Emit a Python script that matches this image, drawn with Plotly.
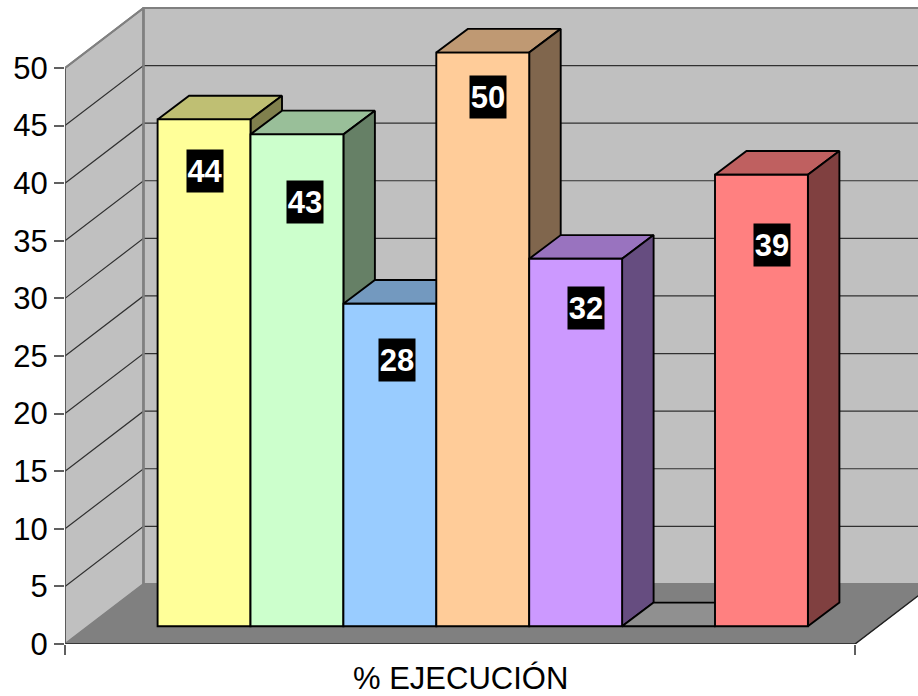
import plotly.graph_objects as go

# ---- data ----
CATEGORY = "% EJECUCIÓN"
VALUES = [44.0, 42.7, 28.0, 49.8, 31.9, 0.0, 39.2]
FRONT_COLORS = ["#ffff99", "#ccffcc", "#99ccff", "#ffcc99", "#cc99ff", "#c0c0c0", "#ff8080"]
TOP_COLORS = ["#bfbf73", "#99bf99", "#7399bf", "#bf9973", "#9973bf", "#909090", "#bf6060"]
SIDE_COLORS = ["#80804d", "#668066", "#4d6680", "#80664d", "#664d80", "#606060", "#804040"]
Y_TICKS = [0, 5, 10, 15, 20, 25, 30, 35, 40, 45, 50]
# label placement relative to the bar front (pixels)
LABEL_XSHIFT = [0.5, 7.6, 6.7, 4.8, 10, 0, 10.1]
LABEL_DROP = [52, 68, 56, 44, 49, 0, 70]

# ---- geometry (pixels per axis unit) ----
W, H = 918, 696
ML, MB = 65.0, 52.3
PX_X = 790.0
PX_Y = 11.515
FLOOR_DX = 78.5 / PX_X
FLOOR_DY = 60.0 / PX_Y
BAR_DX = 31.5 / PX_X
BAR_DY = 23.7 / PX_Y
BAR_W = 92.9 / PX_X
BAR_X0 = 92.6 / PX_X
BAR_BASE = 17.7 / PX_Y
Y_TOP = (H - MB) / PX_Y
X_TOP = (W - ML) / PX_X
LW = 1.9
FONT = "Liberation Sans"

fig = go.Figure()


def poly(xs, ys, fill, line="#000000", width=LW, z=0):
    fig.add_trace(go.Scatter(
        x=xs, y=ys, mode="lines", fill="toself" if fill else "none",
        fillcolor=fill, line=dict(color=line, width=width),
        hoverinfo="skip", showlegend=False, zorder=z))


# walls and floor
poly([0, FLOOR_DX, FLOOR_DX, 0, 0],
     [0, FLOOR_DY, 50 + FLOOR_DY, 50, 0], "#c0c0c0", "#808080", 2, 0)
poly([FLOOR_DX, X_TOP + 0.1, X_TOP + 0.1, FLOOR_DX, FLOOR_DX],
     [FLOOR_DY, FLOOR_DY, 50 + FLOOR_DY, 50 + FLOOR_DY, FLOOR_DY], "#c0c0c0", "#808080", 2, 0)
poly([0, 1, 1 + FLOOR_DX, FLOOR_DX, 0],
     [0, 0, FLOOR_DY, FLOOR_DY, 0], "#808080", "#808080", 1, 0)
# floor front and right edges
poly([0, 1, 1 + FLOOR_DX], [0, 0, FLOOR_DY], None, "#202020", 1.5, 0)

# gridlines
for t in Y_TICKS[1:-1]:
    poly([0, FLOOR_DX, X_TOP + 0.1], [t, t + FLOOR_DY, t + FLOOR_DY], None, "#303030", 1.2, 0)
poly([0, 0], [0, 50], None, "#505050", 1.5, 0)
poly([0, FLOOR_DX], [50, 50 + FLOOR_DY], None, "#808080", 2, 0)
poly([FLOOR_DX, FLOOR_DX], [FLOOR_DY, 50 + FLOOR_DY], None, "#808080", 2.5, 0)
poly([FLOOR_DX, X_TOP + 0.1], [50 + FLOOR_DY] * 2, None, "#808080", 2, 0)

# bars, painted from left to right
for i, v in enumerate(VALUES):
    x0 = BAR_X0 + i * BAR_W
    x1 = x0 + BAR_W
    top = BAR_BASE + v
    z = 2 * i + 1
    poly([x0, x1, x1 + BAR_DX, x0 + BAR_DX, x0],
         [top, top, top + BAR_DY, top + BAR_DY, top], TOP_COLORS[i], z=z)
    if v > 0:
        poly([x1, x1 + BAR_DX, x1 + BAR_DX, x1, x1],
             [BAR_BASE, BAR_BASE + BAR_DY, top + BAR_DY, top, BAR_BASE], SIDE_COLORS[i], z=z)
        fig.add_trace(go.Bar(
            x=[x0 + BAR_W / 2], y=[v], base=[BAR_BASE], width=[BAR_W],
            marker=dict(color=FRONT_COLORS[i], line=dict(color="#000000", width=LW)),
            hoverinfo="skip", showlegend=False, zorder=z + 1))
        fig.add_annotation(
            x=x0 + BAR_W / 2, y=top, xref="x", yref="y", text=f"<b>{v:.0f}</b>",
            showarrow=False, xshift=LABEL_XSHIFT[i], yshift=-LABEL_DROP[i],
            bgcolor="#000000", width=36, height=42, borderpad=0,
            font=dict(family=FONT, size=31, color="#ffffff"))

fig.add_annotation(
    x=0.5, y=0, xref="x", yref="y", text=CATEGORY, showarrow=False,
    yshift=-34, font=dict(family=FONT, size=31, color="#000000"))

fig.update_layout(
    width=W, height=H, autosize=False, barmode="overlay",
    margin=dict(l=ML, r=0, t=0, b=MB, pad=0),
    paper_bgcolor="#ffffff", plot_bgcolor="#ffffff", showlegend=False,
    font=dict(family=FONT, size=31, color="#000000"),
    xaxis=dict(range=[0, X_TOP], tickvals=[0, 1], ticktext=["", ""], ticks="outside",
               ticklen=10, tickwidth=1.5, tickcolor="#606060", showgrid=False,
               zeroline=False, showline=False),
    yaxis=dict(range=[0, Y_TOP], tickvals=Y_TICKS, ticks="outside", ticklen=10,
               tickwidth=1.5, tickcolor="#606060", showgrid=False, zeroline=False,
               showline=False, tickfont=dict(size=31, family=FONT)),
)

fig.write_html("out.html", config={"displayModeBar": False},
               post_script="document.body.style.margin='0';document.body.style.overflow='hidden';")
